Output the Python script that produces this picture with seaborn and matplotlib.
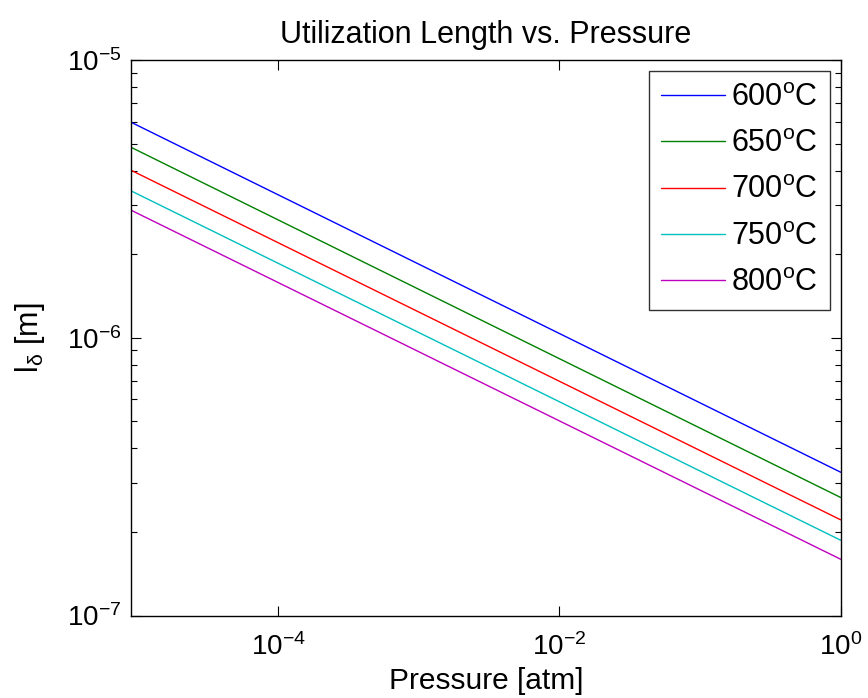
import numpy as np
import pandas as pd
import matplotlib
matplotlib.use("Agg")
import matplotlib.pyplot as plt
import matplotlib.ticker as mticker
import seaborn as sns

# ---- data ----
pressure = [9e-6, 1.0]  # atm, endpoints of the straight log-log lines
temperatures = ["600", "650", "700", "750", "800"]
l_600 = [5.97e-6, 3.28e-7]
l_650 = [4.85e-6, 2.66e-7]
l_700 = [4.01e-6, 2.21e-7]
l_750 = [3.38e-6, 1.866e-7]
l_800 = [2.88e-6, 1.594e-7]
series = [l_600, l_650, l_700, l_750, l_800]
colors = ["#0000ff", "#008000", "#ff0000", "#00bfbf", "#bf00bf"]

labels = [t + r"$^{\mathrm{o}}$C" for t in temperatures]
rows = []
for lab, vals in zip(labels, series):
    for p, v in zip(pressure, vals):
        rows.append({"Pressure": p, "l": v, "T": lab})
df = pd.DataFrame(rows)

sns.set_theme(style="white")
plt.rcParams["font.family"] = ["Liberation Sans", "DejaVu Sans"]
plt.rcParams["mathtext.fontset"] = "custom"
plt.rcParams["mathtext.rm"] = "Liberation Sans"
plt.rcParams["mathtext.it"] = "Liberation Sans:italic"
plt.rcParams["mathtext.bf"] = "Liberation Sans:bold"
plt.rcParams["mathtext.sf"] = "Liberation Sans"
for key in ["text.color", "axes.labelcolor", "xtick.color", "ytick.color",
            "axes.edgecolor"]:
    plt.rcParams[key] = "black"

fig = plt.figure(figsize=(8.68, 6.98), dpi=100)
ax = fig.add_axes([131 / 868, 1 - 615.5 / 698, (840.7 - 131) / 868, (615.5 - 60) / 698])

sns.lineplot(data=df, x="Pressure", y="l", hue="T", palette=colors, ax=ax,
             linewidth=1.0, legend=False)
ax.set_xscale("log")
ax.set_yscale("log")
ax.set_xlim(9e-6, 1.0)
ax.set_ylim(1e-7, 1e-5)

ax.xaxis.set_major_locator(mticker.FixedLocator([1e-4, 1e-2, 1e0]))
ax.xaxis.set_major_formatter(mticker.LogFormatterSciNotation())
ax.xaxis.set_minor_locator(mticker.NullLocator())
ax.yaxis.set_major_locator(mticker.LogLocator(base=10, numticks=10))
ax.yaxis.set_minor_locator(mticker.LogLocator(base=10, subs=np.arange(2, 10), numticks=20))
ax.yaxis.set_minor_formatter(mticker.NullFormatter())

ax.tick_params(which="both", direction="in", top=True, right=True,
               bottom=True, left=True, colors="black", width=0.8)
ax.tick_params(which="major", length=7, labelsize=20)
ax.tick_params(axis="x", which="major", pad=13)
ax.tick_params(axis="y", which="major", pad=7)
ax.tick_params(which="minor", length=4)
for s in ax.spines.values():
    s.set_color("black")
    s.set_linewidth(1.0)

ax.set_xlabel("Pressure [atm]", fontsize=21.5, labelpad=4)
ax.set_ylabel(r"l$_{\mathrm{\delta}}$ [m]", fontsize=22, labelpad=14)
ax.set_title("Utilization Length vs. Pressure", fontsize=22, pad=12)

handles = [plt.Line2D([], [], color=c, linewidth=1.0) for c in colors]
leg = ax.legend(handles, labels, loc="upper right", fontsize=22,
                frameon=True, fancybox=False, edgecolor="black",
                handlelength=2.1, handletextpad=0.2, labelspacing=0.53,
                borderpad=0.4, borderaxespad=0.35)
leg.get_frame().set_linewidth(1.0)

fig.savefig("out.png", dpi=100)
